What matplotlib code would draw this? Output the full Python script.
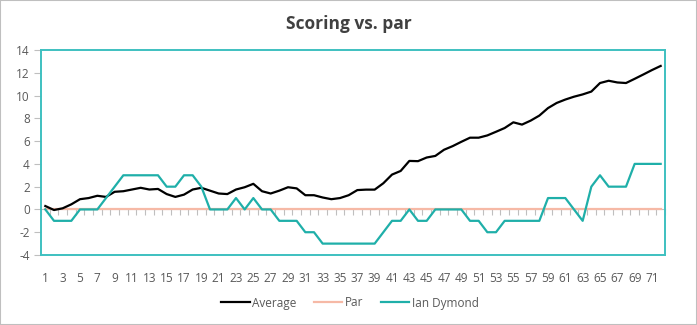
import matplotlib
matplotlib.use("Agg")
import matplotlib.pyplot as plt
from matplotlib.patches import Rectangle
import numpy as np

plt.rcParams['font.family'] = ['Open Sans', 'DejaVu Sans']

holes = list(range(1, 73))
average = [0.3, -0.05, 0.1, 0.45, 0.9, 1.0, 1.2, 1.1, 1.55, 1.6,
           1.75, 1.9, 1.75, 1.8, 1.35, 1.1, 1.3, 1.75, 1.9, 1.65,
           1.4, 1.35, 1.75, 1.95, 2.25, 1.6, 1.4, 1.65, 1.95, 1.85,
           1.25, 1.25, 1.05, 0.9, 1.0, 1.25, 1.7, 1.74, 1.74, 2.3,
           3.06, 3.38, 4.26, 4.24, 4.56, 4.7, 5.24, 5.56, 5.94, 6.3,
           6.3, 6.5, 6.82, 7.15, 7.65, 7.45, 7.8, 8.24, 8.9, 9.35,
           9.65, 9.9, 10.1, 10.35, 11.1, 11.3, 11.15, 11.1, 11.47, 11.85,
           12.24, 12.6]
par = [0] * 72
ian = [0, -1, -1, -1, 0, 0, 0, 1, 2, 3,
       3, 3, 3, 3, 2, 2, 3, 3, 2, 0,
       0, 0, 1, 0, 1, 0, 0, -1, -1, -1,
       -2, -2, -3, -3, -3, -3, -3, -3, -3, -2,
       -1, -1, 0, -1, -1, 0, 0, 0, 0, -1,
       -1, -2, -2, -1, -1, -1, -1, -1, 1, 1,
       1, 0, -1, 2, 3, 2, 2, 2, 4, 4,
       4, 4]
yticks = [-4, -2, 0, 2, 4, 6, 8, 10, 12, 14]
xtick_labels = list(range(1, 73, 2))

TEAL_LINE = '#1FAFA9'
TEAL_BORDER = '#3EC0C0'
SALMON = '#F6B9A6'
GREY_TXT = '#595959'

fig = plt.figure(figsize=(6.97, 3.25), dpi=100)
ax = fig.add_axes([41/697, 70/325, 624/697, 205/325])

ax.plot(holes, par, color=SALMON, lw=1.6, label='Par', zorder=3)
ax.plot(holes, average, color='black', lw=1.6, label='Average', zorder=4)
ax.plot(holes, ian, color=TEAL_LINE, lw=1.6, label='Ian Dymond', zorder=5)

ax.set_xlim(0.5, 72.5)
ax.set_ylim(-4, 14)
ax.set_yticks(yticks)
ax.set_yticklabels([str(v) for v in yticks])
ax.set_xticks(xtick_labels)
ax.set_xticklabels([str(v) for v in xtick_labels])

for s in ax.spines.values():
    s.set_color(TEAL_BORDER)
    s.set_linewidth(1.4)

ax.tick_params(axis='y', direction='out', length=5, width=0.8, color='#BFBFBF',
               labelcolor=GREY_TXT, labelsize=8.5, pad=3)
ax.tick_params(axis='x', length=0, labelcolor=GREY_TXT, labelsize=8.5, pad=12)

# category-axis tick marks along the zero line
sec = ax.secondary_xaxis(4/18)
sec.set_xticks(np.arange(0.5, 73, 1.0))
sec.set_xticklabels([])
sec.tick_params(axis='x', direction='out', length=4, width=0.8, color='#BFBFBF')
sec.spines['bottom'].set_color('#BFBFBF')
sec.spines['bottom'].set_linewidth(0.8)

fig.text(0.5, 1 - 24/325, 'Scoring vs. par', ha='center', va='center',
         fontsize=12.5, fontweight='bold', color='#404040')

handles, labels = ax.get_legend_handles_labels()
order = [1, 0, 2]
leg = fig.legend([handles[i] for i in order], [labels[i] for i in order],
                 loc='center', bbox_to_anchor=(350/697, 1 - 303/325), ncol=3,
                 frameon=False, fontsize=8.5, handlelength=2.4, columnspacing=1.5,
                 handletextpad=0.2)
for t in leg.get_texts():
    t.set_color(GREY_TXT)

fig.patches.append(Rectangle((0, 0), 1, 1, transform=fig.transFigure,
                             fill=False, edgecolor='#BFBFBF', lw=1.5))

fig.savefig('out.png', dpi=100)
